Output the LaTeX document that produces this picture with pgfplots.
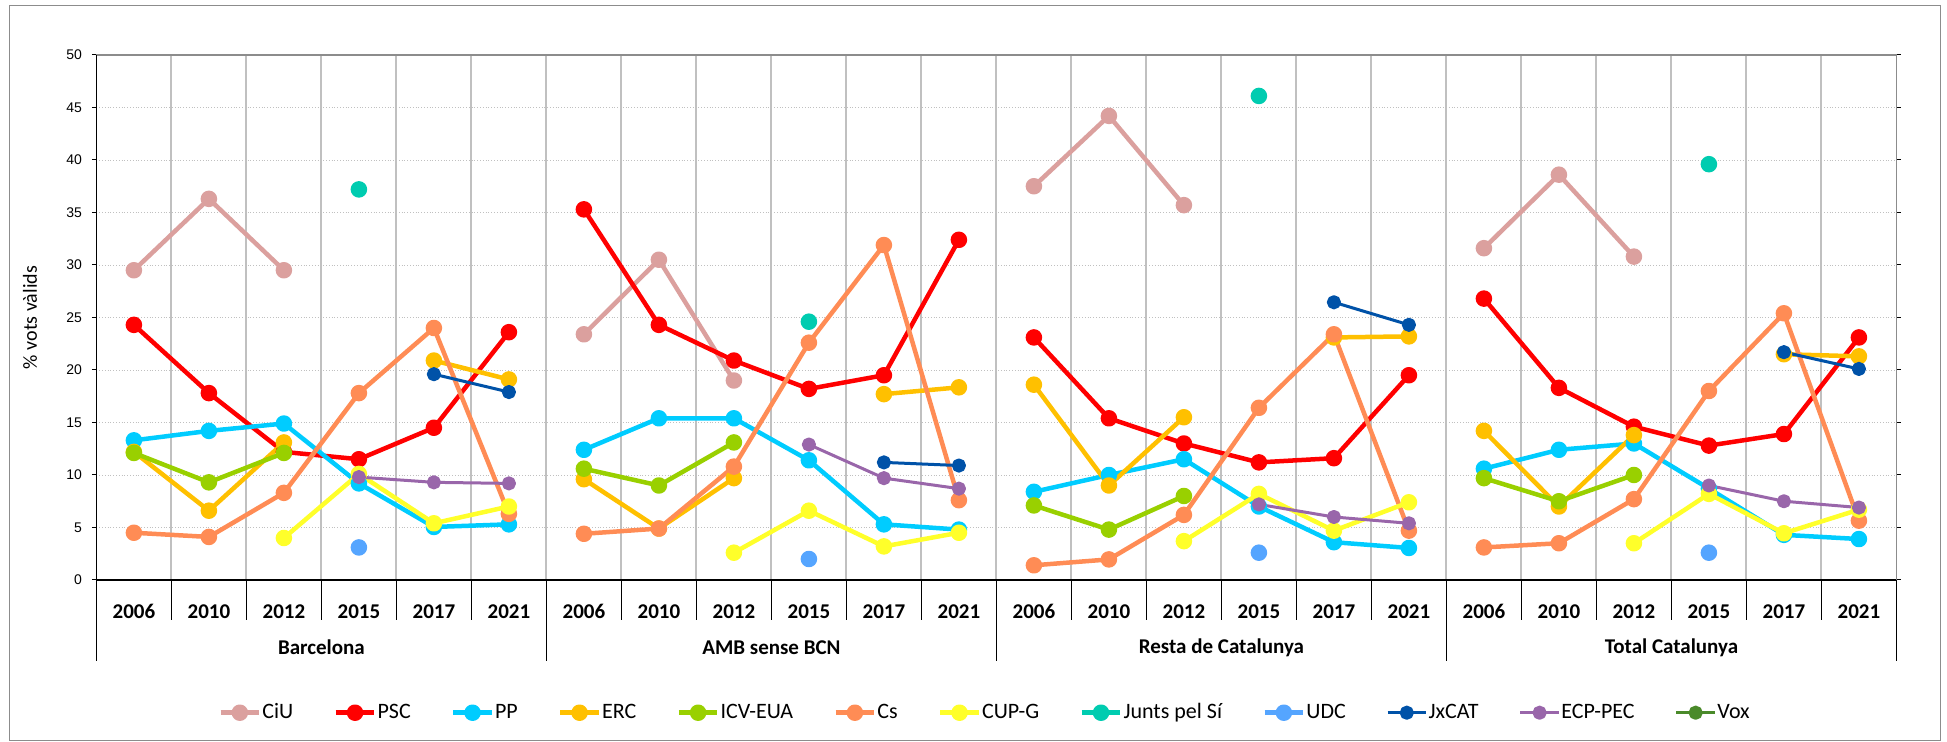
\documentclass[border=0pt]{standalone}
\usepackage{fontspec}
\setmainfont{Carlito}
\newfontfamily\arial{Liberation Sans}
\usepackage{pgfplots}
\usepackage{pgfplotstable}
\pgfplotsset{compat=1.18}
\definecolor{cciu}{HTML}{DBA09E}
\definecolor{cpsc}{HTML}{FF0000}
\definecolor{cpp}{HTML}{00CCFF}
\definecolor{cerc}{HTML}{FFC000}
\definecolor{cicv}{HTML}{99D000}
\definecolor{ccs}{HTML}{FF8C55}
\definecolor{ccup}{HTML}{FFFF2A}
\definecolor{cjxsi}{HTML}{00CCB0}
\definecolor{cudc}{HTML}{55A5FF}
\definecolor{cjxcat}{HTML}{0052A8}
\definecolor{cecp}{HTML}{9966AA}
\definecolor{cvox}{HTML}{4A8A2A}
\definecolor{gridg}{HTML}{C0C0C0}
\pgfplotstableread{
x CiU PSC PP ERC ICV Cs CUP JxSi UDC JxCAT ECP
0.5 29.5 24.3 13.3 12.2 12.1 4.5 nan nan nan nan nan
1.5 36.3 17.8 14.2 6.6 9.3 4.1 nan nan nan nan nan
2.5 29.5 12.2 14.9 13.1 12.1 8.3 4.0 nan nan nan nan
3.5 nan 11.5 9.2 nan nan 17.8 10.1 37.2 3.1 nan 9.8
4.5 nan 14.5 5.05 20.9 nan 24.0 5.4 nan nan 19.6 9.3
5.5 nan 23.6 5.3 19.1 nan 6.3 7.0 nan nan 17.9 9.2
6 nan nan nan nan nan nan nan nan nan nan nan
6.5 23.4 35.3 12.4 9.6 10.6 4.4 nan nan nan nan nan
7.5 30.5 24.3 15.4 4.9 9.0 4.9 nan nan nan nan nan
8.5 19.0 20.9 15.4 9.7 13.1 10.8 2.6 nan nan nan nan
9.5 nan 18.2 11.4 nan nan 22.6 6.6 24.6 2.0 nan 12.9
10.5 nan 19.5 5.3 17.7 nan 31.9 3.2 nan nan 11.2 9.7
11.5 nan 32.4 4.8 18.35 nan 7.6 4.5 nan nan 10.9 8.7
12 nan nan nan nan nan nan nan nan nan nan nan
12.5 37.5 23.1 8.4 18.6 7.1 1.4 nan nan nan nan nan
13.5 44.2 15.4 10.0 9.0 4.8 1.96 nan nan nan nan nan
14.5 35.7 13.0 11.5 15.5 8.0 6.2 3.7 nan nan nan nan
15.5 nan 11.2 7.0 nan nan 16.4 8.2 46.1 2.6 nan 7.2
16.5 nan 11.6 3.6 23.1 nan 23.4 4.7 nan nan 26.45 6.0
17.5 nan 19.5 3.05 23.2 nan 4.7 7.4 nan nan 24.3 5.4
18 nan nan nan nan nan nan nan nan nan nan nan
18.5 31.6 26.8 10.6 14.2 9.7 3.1 nan nan nan nan nan
19.5 38.6 18.3 12.4 7.0 7.5 3.5 nan nan nan nan nan
20.5 30.8 14.6 13.0 13.8 10.0 7.7 3.5 nan nan nan nan
21.5 nan 12.8 8.7 nan nan 18.0 8.2 39.6 2.6 nan 9.0
22.5 nan 13.9 4.3 21.5 nan 25.4 4.45 nan nan 21.7 7.5
23.5 nan 23.1 3.9 21.3 nan 5.65 6.7 nan nan 20.1 6.9
}\data
\pgfplotsset{
  partyline/.style={color=#1, line width=2.25pt, mark=*, mark size=3pt, mark options={solid, fill=#1}, line join=round},
  thinline/.style={color=#1, line width=1.5pt, mark=*, mark size=2.8pt, mark options={solid, fill=#1}, line join=round},
}
\begin{document}
\begin{tikzpicture}
\useasboundingbox (0,0) rectangle (973.5pt,371pt);
\draw[color=gray!90, line width=0.6pt] (4.6pt,0.8pt) rectangle (970.4pt,368.4pt);
\begin{axis}[
  at={(48.2pt,81pt)}, anchor=south west,
  width=900pt, height=262.5pt, scale only axis,
  xmin=0, xmax=24, ymin=0, ymax=50,
  clip=false,
  unbounded coords=jump,
  axis line style={draw=gray!90, line width=0.7pt},
  xtick={0.5,1.5,...,23.5},
  xticklabels={2006,2010,2012,2015,2017,2021,2006,2010,2012,2015,2017,2021,2006,2010,2012,2015,2017,2021,2006,2010,2012,2015,2017,2021},
  xticklabel style={font=\fontsize{10.5}{12}\selectfont\bfseries, anchor=center, yshift=-13.35pt, inner sep=0pt},
  x tick style={draw=none},
  minor xtick={1,2,...,23},
  xminorgrids=true,
  minor x grid style={color=gridg, line width=1pt},
  ytick={0,5,...,50},
  ymajorgrids=true,
  y grid style={color=gridg, line width=0.4pt, densely dotted},
  y tick style={black, line width=0.5pt},
  tick align=outside,
  major tick length=2.25pt,
  yticklabel style={font=\arial\fontsize{7}{8}\selectfont, inner sep=0pt, xshift=-4.75pt},
  /pgf/number format/assume math mode=true,
  ylabel={\% vots vàlids},
  ylabel style={font=\arial\bfseries\fontsize{7.5}{9}\selectfont},
  every axis y label/.style={at={(axis description cs:0,0.5)}, xshift=-33.2pt, rotate=90, anchor=center},
  legend columns=12,
  legend style={at={(axis description cs:0.4934,-0.2528)}, anchor=center, draw=none, fill=none,
    font=\fontsize{11}{12}\selectfont, /tikz/every even column/.append style={column sep=19.6pt},
    nodes={inner sep=0.5pt}},
  legend image code/.code={\draw[mark repeat=2, mark phase=2] plot coordinates {(0pt,0pt) (9.65pt,0pt) (19.3pt,0pt)};},
]
\addplot[partyline=cciu] table[x=x, y=CiU] {\data}; \addlegendentry{CiU}
\addplot[partyline=cpsc] table[x=x, y=PSC] {\data}; \addlegendentry{PSC}
\addplot[partyline=cpp] table[x=x, y=PP] {\data}; \addlegendentry{PP}
\addplot[partyline=cerc] table[x=x, y=ERC] {\data}; \addlegendentry{ERC}
\addplot[partyline=cicv] table[x=x, y=ICV] {\data}; \addlegendentry{ICV-EUA}
\addplot[partyline=ccs] table[x=x, y=Cs] {\data}; \addlegendentry{Cs}
\addplot[partyline=ccup] table[x=x, y=CUP] {\data}; \addlegendentry{CUP-G}
\addplot[partyline=cjxsi] table[x=x, y=JxSi] {\data}; \addlegendentry{Junts pel Sí}
\addplot[partyline=cudc] table[x=x, y=UDC] {\data}; \addlegendentry{UDC}
\addplot[thinline=cjxcat] table[x=x, y=JxCAT] {\data}; \addlegendentry{JxCAT}
\addplot[thinline=cecp] table[x=x, y=ECP] {\data}; \addlegendentry{ECP-PEC}
\addlegendimage{thinline=cvox} \addlegendentry{Vox}
% axis lines left and bottom
\draw[black, line width=0.6pt] (axis cs:0,50) -- (axis cs:0,0);
\draw[black, line width=0.8pt] (axis cs:0,0) -- (axis cs:24,0);
\pgfplotsinvokeforeach{1,2,3,4,5,7,8,9,10,11,13,14,15,16,17,19,20,21,22,23}{
  \draw[black, line width=0.5pt] (axis cs:#1,0) -- ++(0pt,-20pt);
}
\pgfplotsinvokeforeach{0,6,12,18,24}{
  \draw[black, line width=0.5pt] (axis cs:#1,0) -- ++(0pt,-40.5pt);
}
\node[font=\fontsize{10.5}{12}\selectfont\bfseries, yshift=-33.85pt] at (axis cs:3,0) {Barcelona};
\node[font=\fontsize{10.5}{12}\selectfont\bfseries, yshift=-33.85pt] at (axis cs:9,0) {AMB sense BCN};
\node[font=\fontsize{10.5}{12}\selectfont\bfseries, yshift=-33.85pt] at (axis cs:15,0) {Resta de Catalunya};
\node[font=\fontsize{10.5}{12}\selectfont\bfseries, yshift=-33.85pt] at (axis cs:21,0) {Total Catalunya};
\end{axis}
\end{tikzpicture}
\end{document}
